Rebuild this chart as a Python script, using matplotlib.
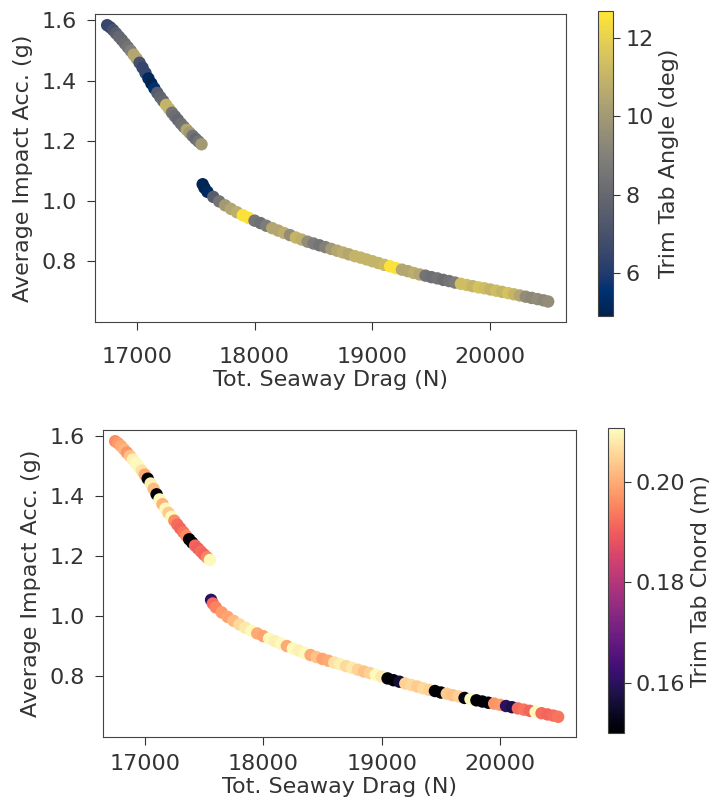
"""
Trim tab sweep: impact acceleration vs seaway drag, coloured by trim tab
angle (top) and trim tab chord (bottom).
"""

import matplotlib
matplotlib.use("Agg")
import matplotlib.pyplot as plt

# ── Data ─────────────────────────────────────────────────────────────────────
# upper branch (short-chord / low-drag designs)
drag_upper = [16750, 16775, 16800, 16825, 16850, 16875, 16900, 16925, 16950, 16975,
              17000, 17025, 17050, 17075, 17100, 17125, 17150, 17175, 17200, 17225,
              17250, 17275, 17300, 17325, 17350, 17375, 17400, 17425, 17450, 17475,
              17500, 17525, 17550]
acc_upper = [1.584, 1.577, 1.568, 1.557, 1.546, 1.535, 1.523, 1.511, 1.499, 1.486,
             1.473, 1.459, 1.443, 1.425, 1.407, 1.390, 1.374, 1.359, 1.345, 1.332,
             1.319, 1.306, 1.293, 1.281, 1.269, 1.257, 1.246, 1.236, 1.226, 1.216,
             1.206, 1.197, 1.188]
angle_upper = [6.5, 6.5, 7.0, 7.5, 8.0, 8.0, 8.2, 8.5, 9.0, 10.5,
               10.5, 7.0, 6.5, 6.5, 5.2, 5.0, 5.5, 7.5, 7.8, 8.0,
               11.0, 11.0, 8.5, 8.2, 8.0, 8.3, 8.5, 10.5, 10.0, 8.5,
               8.0, 8.5, 10.0]
chord_upper = [0.196, 0.198, 0.200, 0.201, 0.197, 0.203, 0.209, 0.210, 0.210, 0.207,
               0.200, 0.150, 0.209, 0.202, 0.150, 0.210, 0.201, 0.210, 0.204, 0.210,
               0.196, 0.192, 0.191, 0.193, 0.196, 0.150, 0.150, 0.191, 0.190, 0.192,
               0.191, 0.195, 0.210]

# lower branch
drag_lower = [17560, 17575, 17600, 17650, 17700, 17750, 17800, 17850, 17900, 17950,
              18000, 18050, 18100, 18150, 18200, 18250, 18300, 18350, 18400, 18450,
              18500, 18550, 18600, 18650, 18700, 18750, 18800, 18850, 18900, 18950,
              19000, 19050, 19100, 19150, 19200, 19250, 19300, 19350, 19400, 19450,
              19500, 19550, 19600, 19650, 19700, 19750, 19800, 19850, 19900, 19950,
              20000, 20050, 20100, 20150, 20200, 20250, 20300, 20350, 20400, 20450,
              20490]
acc_lower = [1.055, 1.043, 1.030, 1.013, 0.998, 0.985, 0.973, 0.962, 0.952, 0.943,
             0.934, 0.926, 0.917, 0.909, 0.901, 0.893, 0.886, 0.878, 0.871, 0.864,
             0.858, 0.852, 0.846, 0.840, 0.834, 0.828, 0.822, 0.816, 0.811, 0.805,
             0.799, 0.793, 0.787, 0.782, 0.776, 0.771, 0.766, 0.760, 0.755, 0.751,
             0.746, 0.742, 0.737, 0.733, 0.728, 0.724, 0.720, 0.716, 0.712, 0.709,
             0.705, 0.701, 0.697, 0.693, 0.689, 0.685, 0.681, 0.677, 0.673, 0.669,
             0.665]
angle_lower = [5.0, 5.0, 5.2, 7.5, 8.5, 10.0, 10.5, 10.8, 12.5, 12.5,
               8.5, 8.3, 8.8, 10.5, 10.5, 10.8, 9.5, 11.0, 10.8, 9.5,
               8.8, 8.5, 9.0, 10.0, 10.5, 10.8, 10.5, 11.0, 11.0, 11.0,
               11.0, 11.0, 11.2, 12.5, 12.5, 10.5, 10.5, 10.8, 10.5, 8.5,
               8.3, 8.5, 8.2, 8.5, 8.8, 11.3, 11.3, 11.0, 11.5, 11.3,
               11.0, 11.3, 11.0, 11.5, 11.0, 10.5, 9.5, 9.3, 9.5, 9.3,
               9.5]
chord_lower = [0.160, 0.192, 0.195, 0.198, 0.199, 0.202, 0.206, 0.208, 0.210, 0.200,
               0.199, 0.210, 0.209, 0.210, 0.200, 0.210, 0.209, 0.210, 0.200, 0.203,
               0.199, 0.200, 0.207, 0.209, 0.206, 0.208, 0.205, 0.203, 0.205, 0.210,
               0.208, 0.150, 0.150, 0.156, 0.205, 0.206, 0.204, 0.206, 0.205, 0.150,
               0.150, 0.204, 0.203, 0.205, 0.152, 0.210, 0.150, 0.150, 0.151, 0.197,
               0.198, 0.160, 0.158, 0.192, 0.193, 0.191, 0.210, 0.192, 0.191, 0.192,
               0.193]

drag_n = drag_upper + drag_lower
impact_g = acc_upper + acc_lower
trim_angle_deg = angle_upper + angle_lower
trim_chord_m = chord_upper + chord_lower

X_TICKS = [17000, 18000, 19000, 20000]
Y_TICKS = [0.8, 1.0, 1.2, 1.4, 1.6]
ANGLE_TICKS = [6, 8, 10, 12]
CHORD_TICKS = [0.16, 0.18, 0.20]

FONT = 16
MARKER_SIZE = 80
TXT = "#333333"


def draw_panel(fig, ax_rect, cb_rect, colour_vals, cmap, vmin, vmax,
               cb_ticks, cb_fmt, cb_label, xpad):
    ax = fig.add_axes(ax_rect)
    sc = ax.scatter(drag_n, impact_g, c=colour_vals, cmap=cmap,
                    vmin=vmin, vmax=vmax, s=MARKER_SIZE, linewidths=0)

    ax.set_xlim(16646, 20640)
    ax.set_ylim(0.597, 1.622)
    ax.set_xticks(X_TICKS)
    ax.set_yticks(Y_TICKS)
    ax.set_xticklabels([str(t) for t in X_TICKS])
    ax.set_yticklabels([f"{t:.1f}" for t in Y_TICKS])
    ax.tick_params(labelsize=FONT, length=6, color=TXT, labelcolor=TXT)
    ax.tick_params(axis="x", pad=xpad)
    ax.tick_params(axis="y", pad=7)
    ax.set_xlabel("Tot. Seaway Drag (N)", fontsize=FONT, color=TXT, labelpad=2)
    ax.set_ylabel("Average Impact Acc. (g)", fontsize=FONT, color=TXT, labelpad=6)
    for sp in ax.spines.values():
        sp.set_color("#444444")

    cax = fig.add_axes(cb_rect)
    cb = fig.colorbar(sc, cax=cax)
    cb.set_ticks(cb_ticks)
    cb.set_ticklabels([cb_fmt.format(t) for t in cb_ticks])
    cb.ax.tick_params(labelsize=FONT, length=5, color=TXT, labelcolor=TXT)
    cb.set_label(cb_label, fontsize=FONT, color=TXT)
    cb.outline.set_edgecolor("#444444")
    return ax


fig = plt.figure(figsize=(7.19, 8.11), dpi=100)

# top: trim tab angle
draw_panel(fig, [0.132, 0.603, 0.655, 0.380], [0.832, 0.610, 0.021, 0.377],
           trim_angle_deg, "cividis", 4.9, 12.7,
           ANGLE_TICKS, "{:d}", "Trim Tab Angle (deg)", xpad=12)

# bottom: trim tab chord
draw_panel(fig, [0.143, 0.091, 0.658, 0.379], [0.845, 0.096, 0.023, 0.376],
           trim_chord_m, "magma", 0.150, 0.2107,
           CHORD_TICKS, "{:.2f}", "Trim Tab Chord (m)", xpad=6)

fig.savefig("out.png", dpi=100)
plt.close(fig)
